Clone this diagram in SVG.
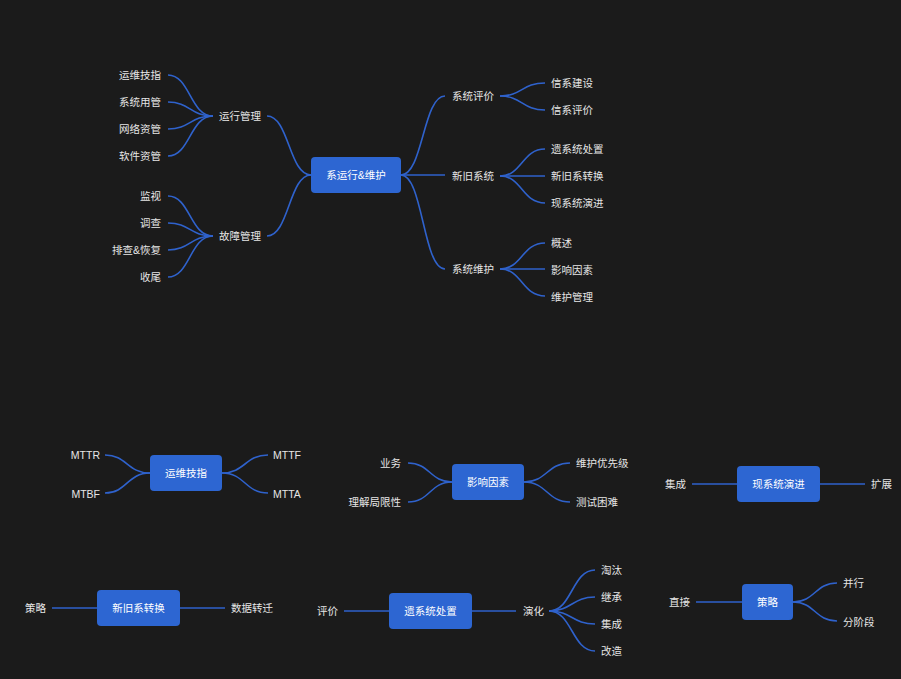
<svg xmlns="http://www.w3.org/2000/svg" width="901" height="679" viewBox="0 0 901 679">
<style>
text{font-family:"Liberation Sans","Noto Sans CJK SC",sans-serif;font-size:10.5px;fill:#e6e6e6;dominant-baseline:central}
.e{text-anchor:end}
.m{text-anchor:middle;fill:#ffffff}
.box{fill:#2d66d2;rx:4;ry:4}
.c path{fill:none;stroke:#2f62cc;stroke-width:1.6}
</style>
<rect width="901" height="679" fill="#1b1b1b"/>
<g class="c" id="connectors">
<!-- main left -->
<path d="M311 175 C289 175 289 116 267 116"/>
<path d="M311 175 C289 175 289 236 267 236"/>
<path d="M213 116 C190 116 190 75 168 75"/>
<path d="M213 116 C190 116 190 102 168 102"/>
<path d="M213 116 C190 116 190 129 168 129"/>
<path d="M213 116 C190 116 190 156 168 156"/>
<path d="M213 236 C190 236 190 196 168 196"/>
<path d="M213 236 C190 236 190 223 168 223"/>
<path d="M213 236 C190 236 190 250 168 250"/>
<path d="M213 236 C190 236 190 277 168 277"/>
<!-- main right -->
<path d="M401 175 C423 175 423 96 445 96"/>
<path d="M401 175 L445 175"/>
<path d="M401 175 C423 175 423 269 445 269"/>
<path d="M500 96 C522 96 522 83 545 83"/>
<path d="M500 96 C522 96 522 110 545 110"/>
<path d="M500 176 C522 176 522 149 545 149"/>
<path d="M500 176 L545 176"/>
<path d="M500 176 C522 176 522 203 545 203"/>
<path d="M500 269 C522 269 522 243 545 243"/>
<path d="M500 269 L545 269"/>
<path d="M500 269 C522 269 522 296 545 296"/>
<!-- 运维技指 -->
<path d="M150 473 C127 473 127 455 105 455"/>
<path d="M150 473 C127 473 127 493 105 493"/>
<path d="M222 473 C245 473 245 455 268 455"/>
<path d="M222 473 C245 473 245 493 268 493"/>
<!-- 影响因素 -->
<path d="M452 482 C430 482 430 463 408 463"/>
<path d="M452 482 C430 482 430 502 408 502"/>
<path d="M524 482 C547 482 547 463 570 463"/>
<path d="M524 482 C547 482 547 502 570 502"/>
<!-- 现系统演进 -->
<path d="M692 484 L737 484"/>
<path d="M820 484 L865 484"/>
<!-- 新旧系转换 -->
<path d="M52 608 L97 608"/>
<path d="M180 608 L225 608"/>
<!-- 遗系统处置 -->
<path d="M344 611 L389 611"/>
<path d="M472 611 L516 611"/>
<path d="M549 611 C572 611 572 570 595 570"/>
<path d="M549 611 C572 611 572 597 595 597"/>
<path d="M549 611 C572 611 572 624 595 624"/>
<path d="M549 611 C572 611 572 651 595 651"/>
<!-- 策略 -->
<path d="M696 602 L742 602"/>
<path d="M793 602 C815 602 815 583 837 583"/>
<path d="M793 602 C815 602 815 621 837 621"/>
</g>

<g id="n-root"><rect class="box" x="311" y="157" width="90" height="36"/><text class="m" x="356" y="175">系运行&amp;维护</text></g>
<g id="n-yxgl"><text x="219" y="116">运行管理</text></g>
<g id="n-gzgl"><text x="219" y="236">故障管理</text></g>
<g id="n-ywjz"><text class="e" x="161" y="75">运维技指</text></g>
<g id="n-xtyg"><text class="e" x="161" y="102">系统用管</text></g>
<g id="n-wlzg"><text class="e" x="161" y="129">网络资管</text></g>
<g id="n-rjzg"><text class="e" x="161" y="156">软件资管</text></g>
<g id="n-js"><text class="e" x="161" y="196">监视</text></g>
<g id="n-dc"><text class="e" x="161" y="223">调查</text></g>
<g id="n-pc"><text class="e" x="161" y="250">排查&amp;恢复</text></g>
<g id="n-sw"><text class="e" x="161" y="277">收尾</text></g>
<g id="n-xtpj"><text x="452" y="96">系统评价</text></g>
<g id="n-xjxt"><text x="452" y="176">新旧系统</text></g>
<g id="n-xtwh"><text x="452" y="269">系统维护</text></g>
<g id="n-xxjs"><text x="551" y="83">信系建设</text></g>
<g id="n-xxpj"><text x="551" y="110">信系评价</text></g>
<g id="n-yxtcz"><text x="551" y="149">遗系统处置</text></g>
<g id="n-xjxzh"><text x="551" y="176">新旧系转换</text></g>
<g id="n-xxtyj"><text x="551" y="203">现系统演进</text></g>
<g id="n-gs"><text x="551" y="243">概述</text></g>
<g id="n-yxys"><text x="551" y="270">影响因素</text></g>
<g id="n-whgl"><text x="551" y="297">维护管理</text></g>

<g id="b-ywjz"><rect class="box" x="150" y="455" width="72" height="36"/><text class="m" x="186" y="473">运维技指</text></g>
<g id="b-mttr"><text class="e" x="100" y="455">MTTR</text></g>
<g id="b-mtbf"><text class="e" x="100" y="494">MTBF</text></g>
<g id="b-mttf"><text x="273" y="455">MTTF</text></g>
<g id="b-mtta"><text x="273" y="494">MTTA</text></g>

<g id="b-yxys"><rect class="box" x="452" y="464" width="72" height="36"/><text class="m" x="488" y="482">影响因素</text></g>
<g id="b-yw"><text class="e" x="401" y="463">业务</text></g>
<g id="b-ljjx"><text class="e" x="401" y="502">理解局限性</text></g>
<g id="b-whyxj"><text x="576" y="463">维护优先级</text></g>
<g id="b-csnn"><text x="576" y="502">测试困难</text></g>

<g id="b-xxtyj"><rect class="box" x="737" y="466" width="83" height="36"/><text class="m" x="778.5" y="484">现系统演进</text></g>
<g id="b-jc"><text class="e" x="686" y="484">集成</text></g>
<g id="b-kz"><text x="871" y="484">扩展</text></g>

<g id="b-xjxzh"><rect class="box" x="97" y="590" width="83" height="36"/><text class="m" x="138.5" y="608">新旧系转换</text></g>
<g id="b-cl"><text class="e" x="46" y="608">策略</text></g>
<g id="b-sjzq"><text x="231" y="608">数据转迁</text></g>

<g id="b-yxtcz"><rect class="box" x="389" y="593" width="83" height="36"/><text class="m" x="430.5" y="611">遗系统处置</text></g>
<g id="b-pj"><text class="e" x="338" y="611">评价</text></g>
<g id="b-yh"><text x="523" y="611">演化</text></g>
<g id="b-tt"><text x="601" y="570">淘汰</text></g>
<g id="b-jic"><text x="601" y="597">继承</text></g>
<g id="b-jc2"><text x="601" y="624">集成</text></g>
<g id="b-gz"><text x="601" y="651">改造</text></g>

<g id="b-cl2"><rect class="box" x="742" y="584" width="51" height="36"/><text class="m" x="767.5" y="602">策略</text></g>
<g id="b-zj"><text class="e" x="690" y="602">直接</text></g>
<g id="b-bx"><text x="843" y="583">并行</text></g>
<g id="b-fjd"><text x="843" y="622">分阶段</text></g>
</svg>
